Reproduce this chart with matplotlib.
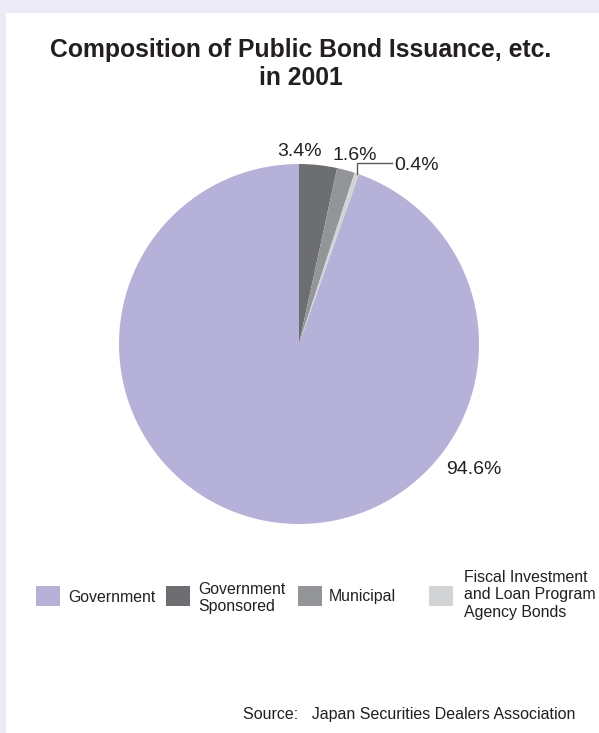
import matplotlib.pyplot as plt
from matplotlib.patches import Rectangle
import numpy as np

plt.rcParams["font.family"] = ["Liberation Sans", "DejaVu Sans"]

# issuance shares, 2001 (%)
categories = ["Government", "Government\nSponsored", "Municipal",
              "Fiscal Investment\nand Loan Program\nAgency Bonds"]
shares = [94.6, 3.4, 1.6, 0.4]
colors = ["#B5B1D8", "#6D6E71", "#939598", "#D1D3D4"]

TEXT = "#231F20"
W, H = 599, 733


def px(x, y):
    """pixel (top-left origin) -> figure fraction"""
    return x / W, 1 - y / H


fig = plt.figure(figsize=(W / 100, H / 100), dpi=100)
fig.patch.set_facecolor("#ECEAF5")
fig.add_artist(Rectangle((6 / W, 0), 1, 1 - 13 / H, transform=fig.transFigure,
                         facecolor="white", edgecolor="none", zorder=0))

fig.text(*px(301, 64), "Composition of Public Bond Issuance, etc.\nin 2001",
         ha="center", va="center", fontsize=17.8, fontweight="bold",
         color=TEXT, linespacing=1.25)

# pie: centre (299, 344) px, radius 180 px
R = 180
lim = 1.2
cx, cy = 299, 344
half = R * lim
ax = fig.add_axes([(cx - half) / W, (H - cy - half) / H, 2 * half / W, 2 * half / H])
total = sum(shares)
start = 90 + shares[0] / total * 360
wedges, _ = ax.pie(shares, colors=colors, startangle=start, counterclock=False,
                   radius=1, wedgeprops=dict(linewidth=0))
ax.set_xlim(-lim, lim)
ax.set_ylim(-lim, lim)
ax.set_aspect("equal")
ax.axis("off")


def d(x, y):
    return (x - cx) / R, (cy - y) / R


label_pos = [(474, 470), (300, 152), (355, 156), (417, 166)]
for v, (lx, ly) in zip(shares, label_pos):
    ax.text(*d(lx, ly), f"{v}%", ha="center", va="center", fontsize=14,
            color=TEXT, clip_on=False)

# leader line for the smallest slice
w = wedges[3]
mid = np.deg2rad((w.theta1 + w.theta2) / 2)
x0, y0 = np.cos(mid), np.sin(mid)
_, ytop = d(0, 163)
xend, _ = d(392, 0)
ax.plot([x0, x0, xend], [y0, ytop, ytop], color="#58595B", linewidth=1,
        clip_on=False, solid_joinstyle="miter")

# legend
patch_x = [36, 166, 298, 429]
text_x = [68, 198, 329, 464]
text_y = [597, 598, 597, 595]
for c, lab, pxx, tx, ty in zip(colors, categories, patch_x, text_x, text_y):
    x0f, y0f = px(pxx, 606)
    fig.add_artist(Rectangle((x0f, y0f), 24 / W, 20 / H, transform=fig.transFigure,
                             facecolor=c, edgecolor="none"))
    fig.text(*px(tx, ty), lab, ha="left", va="center", fontsize=11.4,
             color=TEXT, linespacing=1.2)

fig.text(*px(243, 714), "Source:   Japan Securities Dealers Association",
         ha="left", va="center", fontsize=11.5, color=TEXT)

fig.savefig("out.png", dpi=100, facecolor=fig.get_facecolor())
